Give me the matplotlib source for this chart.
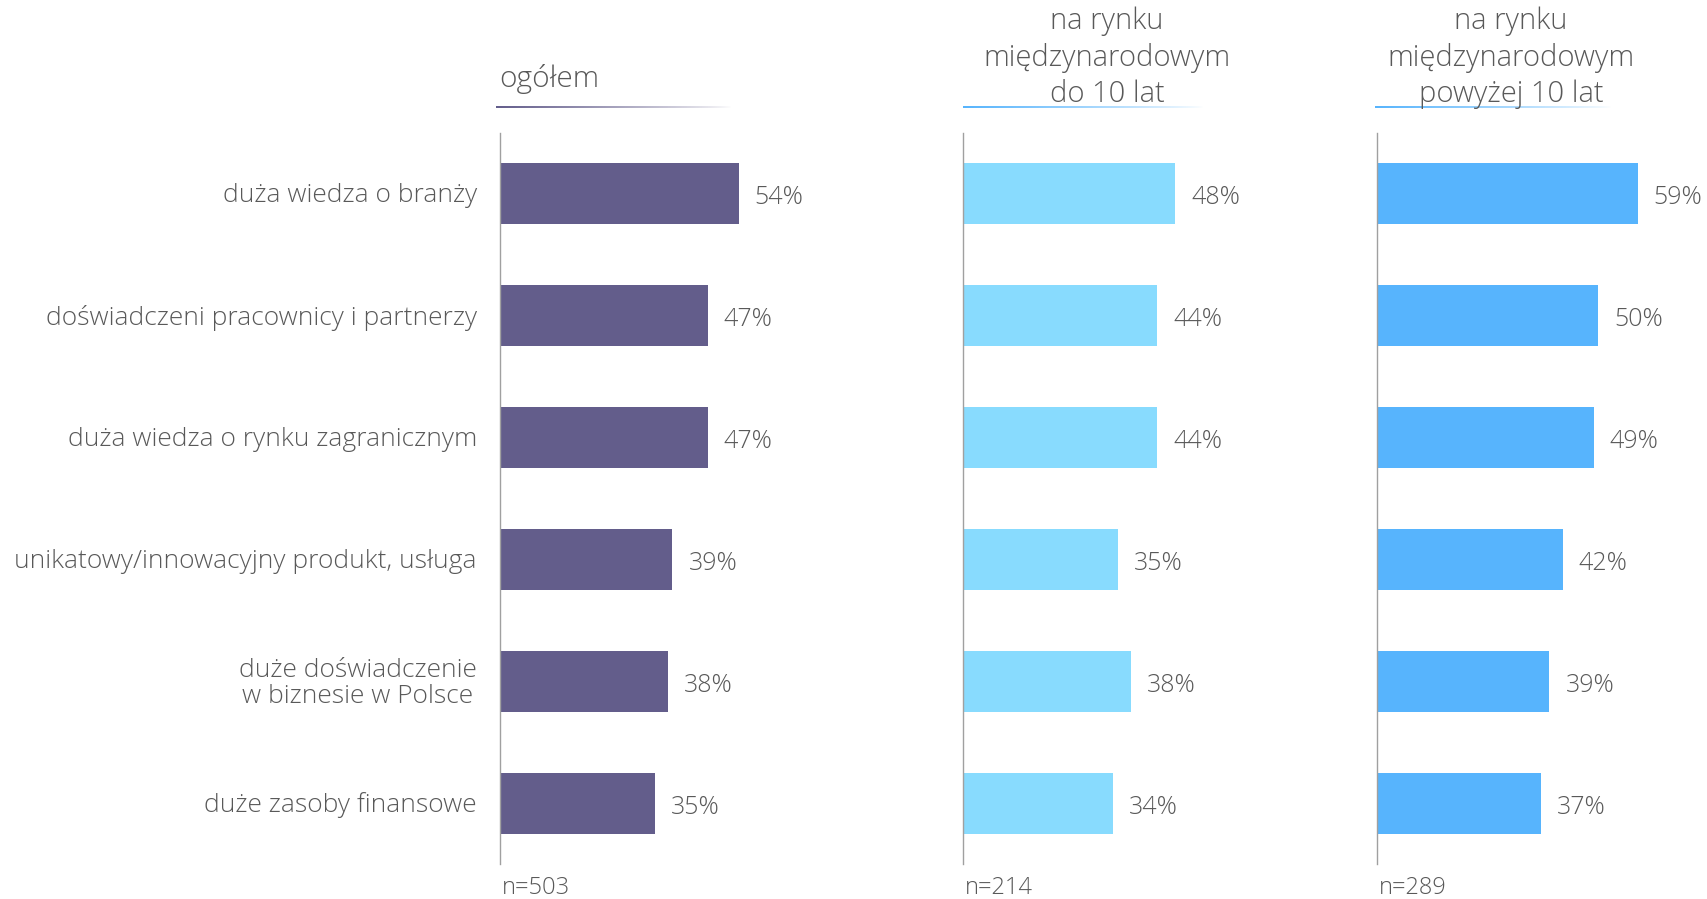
import matplotlib
matplotlib.use("Agg")
import matplotlib.pyplot as plt
import numpy as np
from matplotlib.colors import to_rgb

plt.rcParams['font.family'] = ['Open Sans', 'DejaVu Sans']

categories = ["duża wiedza o branży", "doświadczeni pracownicy i partnerzy",
              "duża wiedza o rynku zagranicznym", "unikatowy/innowacyjny produkt, usługa",
              "duże doświadczenie\nw biznesie w Polsce", "duże zasoby finansowe"]
ogolem = [54, 47, 47, 39, 38, 35]
do10 = [48, 44, 44, 35, 38, 34]
pow10 = [59, 50, 49, 42, 39, 37]
titles = ["ogółem", "na rynku\nmiędzynarodowym\ndo 10 lat", "na rynku\nmiędzynarodowym\npowyżej 10 lat"]
ns = ["n=503", "n=214", "n=289"]

W, H = 1708, 899
fig = plt.figure(figsize=(W/100, H/100), dpi=100)
TXT = "#595959"
FW = 'light'

panel_left = [500, 963, 1377]
colors = ["#635D8B", "#88DBFE", "#57B4FD"]
line_colors = ["#635D8B", "#57B4FD", "#57B4FD"]
series = [ogolem, do10, pow10]
pxpp = 4.42
XMAX = 65
ax_top, ax_bot = 133, 864

for i in range(3):
    left = panel_left[i]
    ax = fig.add_axes([left/W, 1-ax_bot/H, XMAX*pxpp/W, (ax_bot-ax_top)/H])
    y = np.arange(len(categories))
    ax.barh(y, series[i], height=0.5, color=colors[i])
    ax.set_xlim(0, XMAX)
    ax.set_ylim(len(categories)-0.5, -0.5)
    for s in ['top', 'right', 'bottom']:
        ax.spines[s].set_visible(False)
    ax.spines['left'].set_color('#a0a0a0')
    ax.spines['left'].set_linewidth(1.0)
    ax.set_xticks([])
    ax.set_yticks([])
    ax.patch.set_alpha(0)
    for yi, v in zip(y, series[i]):
        ax.annotate(f"{v}%", (v, yi), xytext=(16, -4), textcoords='offset pixels',
                    ha='left', va='center', fontsize=18, color=TXT, fontweight=FW)
    if i == 0:
        for yi, c in zip(y, categories):
            ax.annotate(c, (0, yi), xytext=(-23, -2), textcoords='offset pixels',
                        ha='right', va='center', fontsize=19, color=TXT, fontweight=FW,
                        multialignment='center', linespacing=1.05)
    fig.text((left+2)/W, 1-888/H, ns[i], fontsize=17, color=TXT, ha='left', va='center',
             fontweight=FW)

# headers
fig.text(499/W, 1-79/H, titles[0], fontsize=21.5, color=TXT, ha='left', va='center', fontweight=FW)
fig.text(1107/W, 1-58/H, titles[1], fontsize=21, color=TXT, ha='center', va='center',
         linespacing=1.3, fontweight=FW)
fig.text(1511/W, 1-58/H, titles[2], fontsize=21, color=TXT, ha='center', va='center',
         linespacing=1.3, fontweight=FW)

# gradient underlines
ul = [(496, 732), (963, 1204), (1375, 1612)]
for (x0, x1), c in zip(ul, line_colors):
    lax = fig.add_axes([x0/W, 1-108.5/H, (x1-x0)/W, 3/H])
    rgb = to_rgb(c)
    n = 256
    img = np.zeros((1, n, 4))
    img[0, :, :3] = rgb
    img[0, :, 3] = np.linspace(1, 0, n) ** 0.8
    lax.imshow(img, aspect='auto', extent=[0, 1, 0, 1])
    lax.axis('off')

fig.savefig("out.png", dpi=100)
